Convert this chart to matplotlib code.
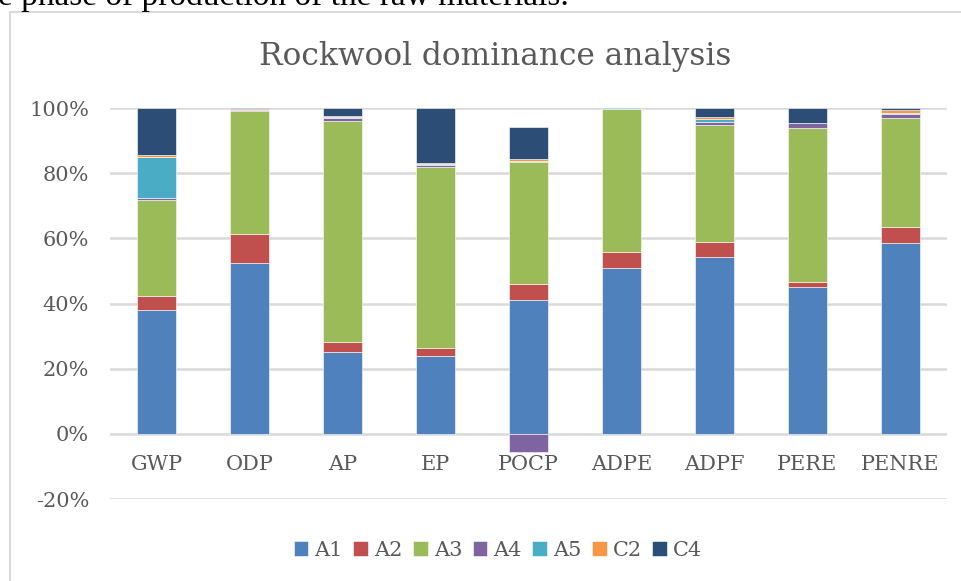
import numpy as np
import matplotlib
matplotlib.use('Agg')
import matplotlib.pyplot as plt
from matplotlib.patches import Rectangle

categories = ['GWP', 'ODP', 'AP', 'EP', 'POCP', 'ADPE', 'ADPF', 'PERE', 'PENRE']
series_names = ['A1', 'A2', 'A3', 'A4', 'A5', 'C2', 'C4']
A1 = [38.0, 52.3, 25.2, 24.0, 41.1, 51.0, 54.2, 45.2, 58.5]
A2 = [4.3, 9.0, 3.0, 2.4, 4.9, 4.7, 4.7, 1.4, 5.1]
A3 = [29.5, 37.9, 67.9, 55.4, 37.3, 43.9, 35.8, 47.3, 33.4]
A4 = [0.7, 0.1, 0.9, 0.7, -5.5, 0.1, 1.1, 1.6, 1.3]
A5 = [12.4, 0.0, 0.2, 0.4, 0.3, 0.2, 0.7, 0.0, 0.2]
C2 = [0.6, 0.3, 0.4, 0.1, 0.8, 0.1, 0.8, 0.0, 0.8]
C4 = [14.5, 0.4, 2.4, 17.0, 9.8, 0.3, 2.7, 4.5, 0.7]
colors = ['#4F81BD', '#C0504D', '#9BBB59', '#8064A2', '#4BACC6', '#F79646', '#2C4D75']

grey = '#595959'
plt.rcParams['font.family'] = ['DejaVu Serif']

fig = plt.figure(figsize=(9.61, 5.81), dpi=100)
W, H = 961, 581

# frame of the chart (cut by the screenshot on right and bottom)
fig.patches.append(Rectangle((10 / W, -0.05), 1.2, 1 - 12 / H + 0.05,
                             transform=fig.transFigure, fill=False,
                             edgecolor='#D9D9D9', linewidth=1.5))
# bit of document text above the chart, cut by the screenshot
fig.text(-2 / W, 1 - 5 / H, 'e phase of production of the raw materials.',
         fontsize=24, family='Liberation Serif', color='black', va='baseline')

ax = fig.add_axes([110 / W, 1 - 499 / H, 837 / W, 391 / H])
x = np.arange(len(categories))
pos_bottom = np.zeros(len(categories))
neg_bottom = np.zeros(len(categories))
for name, vals, c in zip(series_names, [A1, A2, A3, A4, A5, C2, C4], colors):
    vals = np.array(vals)
    bottom = np.where(vals >= 0, pos_bottom, neg_bottom)
    ax.bar(x, vals, 0.41, bottom=bottom, color=c, label=name,
           edgecolor='white', linewidth=0.4, zorder=3)
    pos_bottom += np.where(vals >= 0, vals, 0)
    neg_bottom += np.where(vals < 0, vals, 0)

ax.set_xlim(-0.5, len(categories) - 0.5)
ax.set_ylim(-20, 100)
ax.set_yticks(range(-20, 101, 20))
ax.set_yticklabels([f'{v}%' for v in range(-20, 101, 20)])
ax.yaxis.grid(True, color='#D9D9D9', linewidth=1.8, zorder=0)
ax.set_axisbelow(True)
ax.tick_params(axis='y', length=0, labelsize=15, labelcolor=grey, pad=15)
ax.set_xticks([])
for s in ax.spines.values():
    s.set_visible(False)
for i, cat in enumerate(categories):
    ax.text(i, -9.5, cat, ha='center', va='center', fontsize=15, color=grey)

fig.text(495 / W, 1 - 56 / H, 'Rockwool dominance analysis', ha='center',
         va='center', fontsize=22.5, color=grey)

leg = fig.legend(loc='center', bbox_to_anchor=(498 / W, 1 - 550 / H), ncol=7,
                 frameon=False, fontsize=15, handlelength=0.7, handleheight=0.7,
                 handletextpad=0.3, columnspacing=0.5)
for t in leg.get_texts():
    t.set_color(grey)

fig.savefig('out.png', dpi=100)
